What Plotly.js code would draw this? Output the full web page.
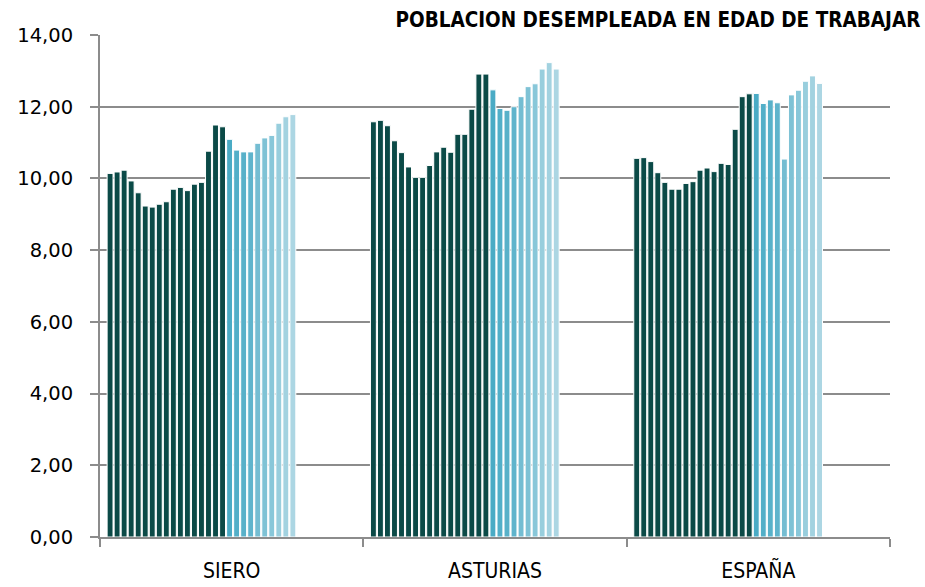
<!DOCTYPE html>
<html>
<head>
<meta charset="utf-8">
<script src="https://cdn.plot.ly/plotly-3.0.1.min.js"></script>
<style>
  html, body { margin: 0; padding: 0; background: #ffffff; }
  #chart { width: 925px; height: 587px; }
</style>
</head>
<body>
<div id="chart"></div>
<script>
// Categories (regions)
const categories = ["SIERO", "ASTURIAS", "ESPAÑA"];

// 27 consecutive periods per region
const siero = [10.14, 10.18, 10.23, 9.93, 9.60, 9.23, 9.20, 9.28, 9.35, 9.70, 9.75, 9.66, 9.84, 9.89,
               10.76, 11.49, 11.44, 11.09, 10.79, 10.74, 10.74, 10.98, 11.13, 11.20, 11.54, 11.72, 11.78];
const asturias = [11.58, 11.62, 11.47, 11.05, 10.72, 10.32, 10.03, 10.03, 10.36, 10.74, 10.87, 10.73, 11.23, 11.23,
                  11.93, 12.91, 12.91, 12.47, 11.95, 11.90, 12.00, 12.28, 12.56, 12.64, 13.05, 13.23, 13.05];
const espana = [10.56, 10.58, 10.47, 10.16, 9.89, 9.70, 9.70, 9.86, 9.91, 10.23, 10.29, 10.19, 10.42, 10.39,
                11.37, 12.28, 12.36, 12.37, 12.09, 12.19, 12.11, 10.54, 12.33, 12.46, 12.71, 12.86, 12.65];

// Bar colours per period
const periodColors = [
  "#0b4a47","#0b4a47","#0b4a47","#0b4a47","#0b4a47","#0b4a47","#0b4a47","#0b4a47","#0b4a47",
  "#0b4a47","#0b4a47","#0b4a47","#0b4a47","#0b4a47","#0b4a47","#0b4a47","#0b4a47",
  "#4aabc5","#52afc8","#58b1c9","#5fb4cc","#74bdd2","#7ec2d5","#88c7d9","#98cedd","#a2d2e0","#acd6e3"
];

const yTickVals = [0, 2, 4, 6, 8, 10, 12, 14];
const yTickText = ["0,00", "2,00", "4,00", "6,00", "8,00", "10,00", "12,00", "14,00"];

const nPeriods = siero.length;
const pitch = 0.0267;   // category units per period
const start = -0.5 + 0.027;

const traces = [];
for (let i = 0; i < nPeriods; i++) {
  traces.push({
    type: "bar",
    x: categories,
    y: [siero[i], asturias[i], espana[i]],
    offset: start + i * pitch,
    width: pitch * 0.84,
    marker: { color: periodColors[i], line: { color: "#ffffff", width: 1 } },
    hoverinfo: "skip",
    showlegend: false
  });
}

const condensed = "Liberation Sans Narrow, DejaVu Sans Condensed, Arial Narrow, sans-serif";

const layout = {
  width: 925,
  height: 587,
  margin: { l: 100, r: 35, t: 35, b: 50 },
  paper_bgcolor: "#ffffff",
  plot_bgcolor: "#ffffff",
  barmode: "overlay",
  title: {
    text: "<b>POBLACION DESEMPLEADA EN EDAD DE TRABAJAR</b>",
    font: { family: condensed, size: 20.5, color: "#000000" },
    xref: "container", x: 0.995, xanchor: "right",
    yref: "container", y: 0.966, yanchor: "middle"
  },
  xaxis: {
    type: "category",
    tickson: "boundaries",
    ticks: "outside",
    ticklen: 8,
    tickwidth: 2,
    tickcolor: "#8c8c8c",
    ticklabelstandoff: 14,
    showline: true,
    linecolor: "#8c8c8c",
    linewidth: 2,
    showgrid: false,
    tickfont: { family: condensed, size: 21, color: "#000000" },
    range: [-0.5, 2.5],
    fixedrange: true
  },
  yaxis: {
    range: [0, 14],
    tickvals: yTickVals,
    ticktext: yTickText,
    ticks: "outside",
    ticklen: 8,
    tickwidth: 2,
    tickcolor: "#8c8c8c",
    ticklabelstandoff: 13,
    showline: true,
    linecolor: "#8c8c8c",
    linewidth: 2,
    showgrid: true,
    gridcolor: "#8c8c8c",
    gridwidth: 2,
    zeroline: false,
    tickfont: { family: "DejaVu Sans, sans-serif", size: 19.5, color: "#000000" },
    fixedrange: true
  }
};

Plotly.newPlot("chart", traces, layout, { displayModeBar: false, staticPlot: true });
</script>
</body>
</html>
